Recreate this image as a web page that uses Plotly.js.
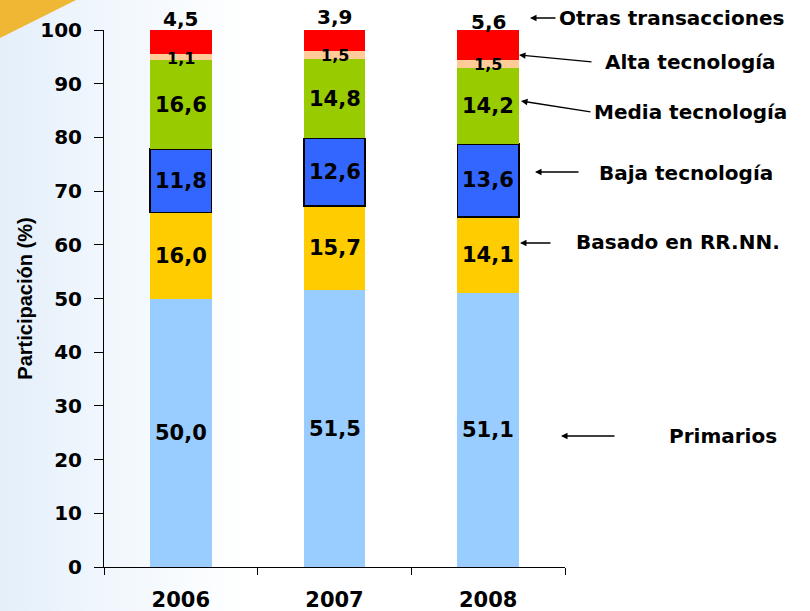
<!DOCTYPE html>
<html><head><meta charset="utf-8">
<script src="https://cdn.plot.ly/plotly-3.0.1.min.js"></script>
<style>
html,body{margin:0;padding:0;}
body{background:linear-gradient(to right,#e4effa 0px,#f1f7fd 110px,#ffffff 250px);}
#chart{width:810px;height:611px;}
</style>
</head><body><div id="chart"></div>
<script>
// ---- data ----
const years = ['2006', '2007', '2008'];
const primarios = [50.0, 51.5, 51.1];
const basadoRRNN = [16.0, 15.7, 14.1];
const bajaTec = [11.8, 12.6, 13.6];
const mediaTec = [16.6, 14.8, 14.2];
const altaTec = [1.1, 1.5, 1.5];
const otrasTrans = [4.5, 3.9, 5.6];
const seriesNames = ['Primarios', 'Basado en RR.NN.', 'Baja tecnología', 'Media tecnología', 'Alta tecnología', 'Otras transacciones'];
const yTickVals = [0, 10, 20, 30, 40, 50, 60, 70, 80, 90, 100];

// ---- styles ----
const seriesData = [primarios, basadoRRNN, bajaTec, mediaTec, altaTec, otrasTrans];
const colors = ['#99CCFF', '#FFCC00', '#3366FF', '#99CC00', '#FFCC99', '#FF0000'];
const FONT = 'DejaVu Sans, Arial, sans-serif';

const traces = seriesData.map((vals, i) => ({
  type: 'bar',
  name: seriesNames[i],
  x: years,
  y: vals,
  marker: {
    color: colors[i],
    line: {color: '#000000', width: i === 2 ? 1.5 : 0}
  },
  hoverinfo: 'name+y'
}));

const fmt = v => v.toFixed(1).replace('.', ',');

// value labels placed at segment centres
const annotations = [];
years.forEach((yr, j) => {
  let cum = 0;
  seriesData.forEach((vals, i) => {
    const v = vals[j];
    const mid = cum + v / 2;
    cum += v;
    const a = {
      x: j, y: mid, xref: 'x', yref: 'y',
      text: '<b>' + fmt(v) + '</b>',
      showarrow: false,
      font: {family: FONT, size: 21, color: '#000'}
    };
    if (i === 4) { a.font.size = 16; a.yshift = -1; }
    if (i === 5) { a.font.size = 20; a.yshift = 23; }
    annotations.push(a);
  });
});

// right-side labels with arrows (pixel geometry converted to paper)
const L = 104, R = 565, T = 30, B = 567;
const px = x => (x - L) / (R - L);
const py = y => (B - y) / (B - T);
const sideLabels = [
  {name: seriesNames[5], tx: 557, ty: 18,  hx: 530, hy: 18,  sx: 557, sy: 18},
  {name: seriesNames[4], tx: 603, ty: 62,  hx: 519, hy: 55,  sx: 593, sy: 62},
  {name: seriesNames[3], tx: 592, ty: 112, hx: 521, hy: 101, sx: 592, sy: 112},
  {name: seriesNames[2], tx: 597, ty: 173, hx: 535, hy: 172, sx: 580, sy: 172},
  {name: seriesNames[1], tx: 574, ty: 242, hx: 520, hy: 243, sx: 552, sy: 243},
  {name: seriesNames[0], tx: 667, ty: 436, hx: 561, hy: 436, sx: 616, sy: 436}
];
sideLabels.forEach(s => {
  annotations.push({
    x: px(s.tx), y: py(s.ty), xref: 'paper', yref: 'paper',
    text: '<b>' + s.name + '</b>', showarrow: false,
    xanchor: 'left', yanchor: 'middle',
    font: {family: FONT, size: 20, color: '#000'}
  });
  annotations.push({
    x: px(s.hx), y: py(s.hy), xref: 'paper', yref: 'paper',
    text: '', showarrow: true, axref: 'pixel', ayref: 'pixel',
    ax: s.sx - s.hx, ay: s.sy - s.hy,
    arrowhead: 2, arrowsize: 1, arrowwidth: 1.3, arrowcolor: '#000',
    standoff: 0, startstandoff: 0
  });
});

const layout = {
  width: 810, height: 611,
  margin: {l: L, r: 810 - R, t: T, b: 611 - B, pad: 0},
  paper_bgcolor: 'rgba(0,0,0,0)',
  plot_bgcolor: 'rgba(0,0,0,0)',
  barmode: 'stack',
  bargap: 0.6,
  showlegend: false,
  font: {family: FONT, color: '#000'},
  xaxis: {
    type: 'category',
    range: [-0.5, 2.5],
    tickson: 'boundaries',
    ticks: 'outside', ticklen: 7, tickcolor: '#000', tickwidth: 1,
    showline: true, linecolor: '#000', linewidth: 1,
    showgrid: false, zeroline: false,
    tickfont: {family: FONT, size: 21, color: '#000', weight: 'bold'},
    ticklabelstandoff: 14,
    fixedrange: true
  },
  yaxis: {
    range: [0, 100],
    tickvals: yTickVals,
    ticks: 'outside', ticklen: 9, tickcolor: '#000', tickwidth: 1,
    showline: true, linecolor: '#000', linewidth: 1,
    showgrid: false, zeroline: false,
    tickfont: {family: FONT, size: 20, color: '#000', weight: 'bold'},
    ticklabelstandoff: 8,
    title: {text: '<b>Participación (%)</b>', font: {family: 'Liberation Sans, Arial, sans-serif', size: 20, color: '#000'}, standoff: 2},
    fixedrange: true
  },
  shapes: [{
    type: 'path', xref: 'paper', yref: 'paper', layer: 'below',
    path: 'M ' + px(0) + ' ' + py(0) + ' L ' + px(76) + ' ' + py(0) + ' L ' + px(0) + ' ' + py(38) + ' Z',
    fillcolor: '#EFB734', line: {width: 0}
  }],
  annotations: annotations
};

Plotly.newPlot('chart', traces, layout, {displayModeBar: false, staticPlot: true});
</script>
</body></html>
